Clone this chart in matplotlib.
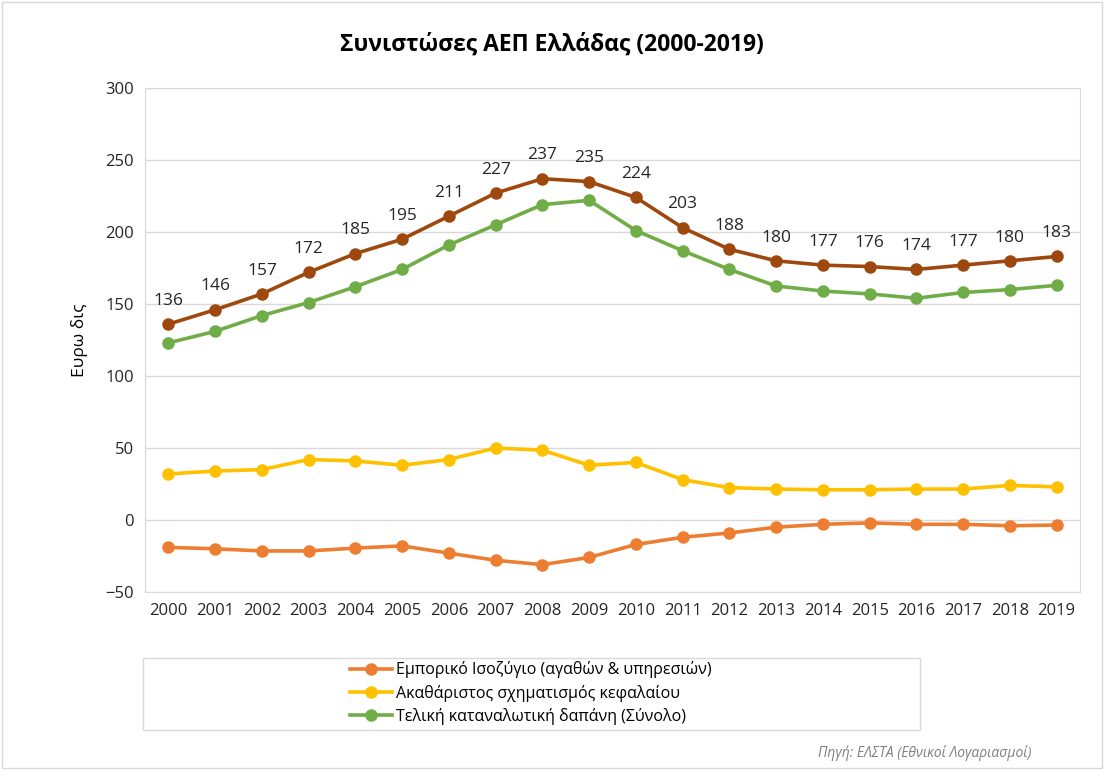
import matplotlib.pyplot as plt

years = list(range(2000, 2020))
gdp = [136, 146, 157, 172, 185, 195, 211, 227, 237, 235, 224, 203, 188, 180, 177, 176, 174, 177, 180, 183]
consumption = [123, 131, 142, 151, 162, 174, 191, 205, 219, 222, 201, 187, 174, 162.5, 159, 157, 154, 158, 160, 163]
investment = [32, 34, 35, 42, 41, 38, 42, 50, 48.5, 38, 40, 28, 22.5, 21.5, 21, 21, 21.5, 21.5, 24, 23]
trade = [-19, -20, -21.5, -21.5, -19.5, -18, -23, -28, -31, -26, -17, -12, -9, -5, -3, -2, -3, -3, -4, -3.5]

labels = ['Εμπορικό Ισοζύγιο (αγαθών & υπηρεσιών)',
          'Ακαθάριστος σχηματισμός κεφαλαίου',
          'Τελική καταναλωτική δαπάνη (Σύνολο)']

plt.rcParams['font.family'] = ['Open Sans', 'DejaVu Sans']

fig = plt.figure(figsize=(11.04, 7.7), dpi=100)
ax = fig.add_axes([145 / 1104, 1 - 592 / 770, 935 / 1104, 504 / 770])

x = list(range(len(years)))
lw, ms = 2.6, 8
l1, = ax.plot(x, trade, color='#ED7D31', lw=lw, marker='o', ms=ms)
l2, = ax.plot(x, investment, color='#FFC000', lw=lw, marker='o', ms=ms)
l3, = ax.plot(x, consumption, color='#70AD47', lw=lw, marker='o', ms=ms)
ax.plot(x, gdp, color='#9E480E', lw=lw, marker='o', ms=ms)

for i, v in enumerate(gdp):
    ax.annotate(str(v), (i, v), xytext=(0, 11), textcoords='offset points',
                ha='center', va='bottom', fontsize=12.5, color='#262626')

ax.set_xlim(-0.5, len(years) - 0.5)
ax.set_ylim(-50, 300)
ax.set_yticks(range(-50, 301, 50))
ax.set_xticks(x)
ax.set_xticklabels([str(y) for y in years])
ax.tick_params(length=0, labelsize=12, colors='#262626', pad=8)
ax.grid(axis='y', color='#d9d9d9', lw=1)
ax.set_axisbelow(True)
for s in ax.spines.values():
    s.set_color('#d9d9d9')
ax.set_ylabel('Ευρω δις', fontsize=12.5, color='#000000', labelpad=12)

fig.text(0.5, 1 - 45 / 770, 'Συνιστώσες ΑΕΠ Ελλάδας (2000-2019)', ha='center', va='center',
         fontsize=16.5, fontweight='bold')

# legend box spanning like the original
fig.patches.append(plt.Rectangle((143 / 1104, 1 - 730 / 770), (920 - 143) / 1104, 72 / 770,
                                 transform=fig.transFigure, fill=False, edgecolor='#d9d9d9', lw=1))
leg = fig.legend([l1, l2, l3], labels, loc='center', bbox_to_anchor=(531 / 1104, 1 - 693 / 770),
                 fontsize=11.5, frameon=False, handlelength=2.6, handletextpad=0.3,
                 labelspacing=0.38, borderpad=0.2)

fig.text(1032 / 1104, 1 - 753 / 770, 'Πηγή: ΕΛΣΤΑ (Εθνικοί Λογαριασμοί)', ha='right', va='center',
         fontsize=10, style='italic', color='#7f7f7f')

fig.patches.append(plt.Rectangle((0.002, 0.002), 0.996, 0.996, transform=fig.transFigure,
                                 fill=False, edgecolor='#d9d9d9', lw=1))

fig.savefig('out.png', dpi=100)
